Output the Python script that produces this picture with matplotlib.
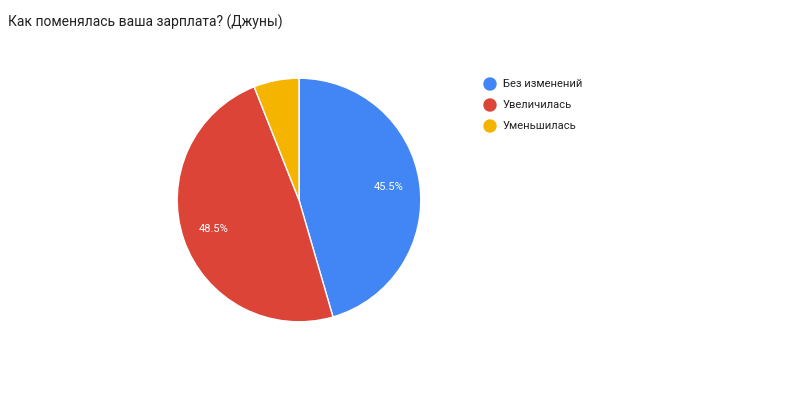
import matplotlib
matplotlib.use("Agg")
import matplotlib.pyplot as plt

labels = ["Без изменений", "Увеличилась", "Уменьшилась"]
values = [45.5, 48.5, 6.0]
colors = ["#4285F4", "#DB4437", "#F4B400"]
title = "Как поменялась ваша зарплата? (Джуны)"

plt.rcParams['font.family'] = ['Roboto', 'DejaVu Sans']
fig = plt.figure(figsize=(8, 4), dpi=100)
fig.text(8/800, 1-22/400, title, fontsize=10, va='center', ha='left', color='#222222')

ax = fig.add_axes([(299-123)/800, (200-123)/400, 246/800, 246/400])
ax.pie(values, colors=colors, startangle=90, counterclock=False, radius=1,
       wedgeprops=dict(edgecolor='white', linewidth=1),
       autopct=lambda p: f"{p:.1f}%" if p > 10 else "", pctdistance=0.74,
       textprops=dict(color='white', fontsize=8))
ax.set_xlim(-1.01, 1.01)
ax.set_ylim(-1.01, 1.01)
ax.set_aspect('equal')

for i, (lab, c) in enumerate(zip(labels, colors)):
    y = 1 - (84 + i*21)/400
    fig.patches.append(matplotlib.patches.Ellipse((490/800, y), 12/800, 12/400,
                       transform=fig.transFigure, color=c, figure=fig))
    fig.text(503/800, y, lab, fontsize=8, va='center', ha='left', color='#222222')

fig.savefig("out.png", dpi=100)
